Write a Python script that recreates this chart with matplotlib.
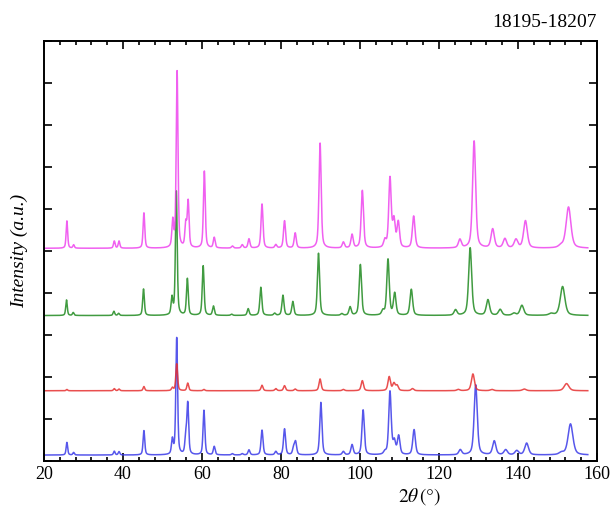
import numpy as np
import matplotlib
matplotlib.use("Agg")
import matplotlib.pyplot as plt
from matplotlib.ticker import MultipleLocator

plt.rcParams["font.family"] = ["Liberation Serif", "DejaVu Serif"]
plt.rcParams["mathtext.fontset"] = "stix"

# peak lists read per pattern: 2theta position (deg) and height above baseline
BLUE_POS = [25.8, 27.5, 37.8, 39.0, 45.3, 52.5, 53.6, 55.9, 56.4, 60.5, 63.1, 67.7, 70.2,
            71.9, 75.2, 78.7, 80.9, 83.2, 83.7, 90.1, 95.8, 98.0, 100.8, 106.3, 107.6,
            108.7, 109.8, 113.7, 125.4, 129.3, 134.0, 136.9, 139.7, 142.2, 151.0, 153.3]
BLUE_H = [0.30, 0.06, 0.09, 0.08, 0.58, 0.35, 2.78, 0.40, 1.20, 1.06, 0.20, 0.03, 0.03,
          0.12, 0.59, 0.08, 0.62, 0.16, 0.30, 1.25, 0.08, 0.24, 1.07, 0.06, 1.50,
          0.30, 0.44, 0.60, 0.12, 1.67, 0.33, 0.12, 0.10, 0.28, 0.05, 0.74]

RED_POS = [25.8, 37.8, 39.0, 45.3, 52.5, 53.6, 56.4, 60.5, 75.2, 78.7, 80.9, 83.6, 89.9,
           95.8, 100.6, 107.4, 108.6, 109.4, 113.3, 124.9, 128.6, 133.4, 141.6, 152.3]
RED_H = [0.03, 0.05, 0.04, 0.10, 0.07, 0.64, 0.18, 0.03, 0.13, 0.05, 0.12, 0.04, 0.28,
         0.03, 0.24, 0.33, 0.17, 0.12, 0.05, 0.03, 0.40, 0.03, 0.04, 0.17]

GREEN_POS = [25.7, 27.4, 37.7, 38.9, 45.2, 52.4, 53.5, 56.3, 60.3, 62.9, 67.5, 71.7, 74.9,
             78.4, 80.5, 83.0, 89.5, 95.4, 97.5, 100.1, 105.8, 107.1, 108.8, 113.0, 124.2,
             127.9, 132.4, 135.5, 139.0, 141.0, 148.4, 151.3]
GREEN_H = [0.37, 0.07, 0.10, 0.05, 0.63, 0.40, 2.95, 0.87, 1.18, 0.22, 0.03, 0.16, 0.67,
           0.05, 0.48, 0.33, 1.48, 0.04, 0.20, 1.21, 0.10, 1.33, 0.52, 0.62, 0.13,
           1.61, 0.37, 0.14, 0.05, 0.24, 0.04, 0.69]

MAG_POS = [25.8, 27.5, 37.8, 39.0, 45.3, 52.6, 53.7, 55.9, 56.5, 60.6, 63.1, 67.7, 70.2,
           71.9, 75.2, 78.7, 80.9, 83.6, 89.9, 95.8, 98.0, 100.6, 106.3, 107.6, 108.6,
           109.7, 113.6, 125.3, 128.9, 133.6, 136.7, 139.5, 141.9, 150.9, 152.8]
MAG_H = [0.65, 0.08, 0.17, 0.17, 0.84, 0.62, 4.20, 0.55, 1.09, 1.83, 0.25, 0.05, 0.08,
         0.22, 1.05, 0.08, 0.65, 0.36, 2.50, 0.14, 0.32, 1.37, 0.17, 1.65, 0.63,
         0.60, 0.76, 0.20, 2.55, 0.45, 0.22, 0.20, 0.65, 0.05, 0.98]

# vertical offsets of the stacked patterns
OFFSETS = [0.14, 1.67, 3.46, 5.06]
COLORS = ["#3a3ae8", "#e63030", "#1f8a1f", "#ee44ee"]


def pattern(tt, pos, h):
    # pseudo-Voigt peaks, width growing with angle
    y = np.zeros_like(tt)
    for p, a in zip(pos, h):
        w = 0.4 + 0.25 * np.tan(np.radians(p / 2))
        d = (tt - p) / (w / 2)
        y += a * (0.5 / (1 + d ** 2) + 0.5 * np.exp(-np.log(2) * d ** 2))
    return y


tt = np.arange(20.3, 157.7, 0.02)
series = [(BLUE_POS, BLUE_H), (RED_POS, RED_H), (GREEN_POS, GREEN_H), (MAG_POS, MAG_H)]

fig = plt.figure(figsize=(6.11, 5.15), dpi=100)
ax = fig.add_axes((0.072, 0.105, 0.905, 0.816))
for (pos, h), off, c in zip(series, OFFSETS, COLORS):
    ax.plot(tt, off + pattern(tt, pos, h), color=c, lw=1.1, alpha=0.85)

ax.set_xlim(20, 160)
ax.set_ylim(0, 10)
ax.xaxis.set_major_locator(MultipleLocator(20))
ax.xaxis.set_minor_locator(MultipleLocator(4))
ax.yaxis.set_major_locator(MultipleLocator(1))
ax.set_yticklabels([])
ax.tick_params(which="both", direction="in", top=True, right=True, width=1.2)
ax.tick_params(which="major", length=6, labelsize=13)
ax.tick_params(which="minor", length=3)
for sp in ax.spines.values():
    sp.set_linewidth(1.4)

ax.set_xlabel(r"$2\theta\,(°)$", fontsize=14, style="italic")
ax.xaxis.set_label_coords(0.68, -0.06)
ax.set_ylabel("Intensity (a.u.)", fontsize=14, style="italic", labelpad=8)
ax.set_title("18195-18207", loc="right", fontsize=14, pad=10)

fig.savefig("out.png", dpi=100)
